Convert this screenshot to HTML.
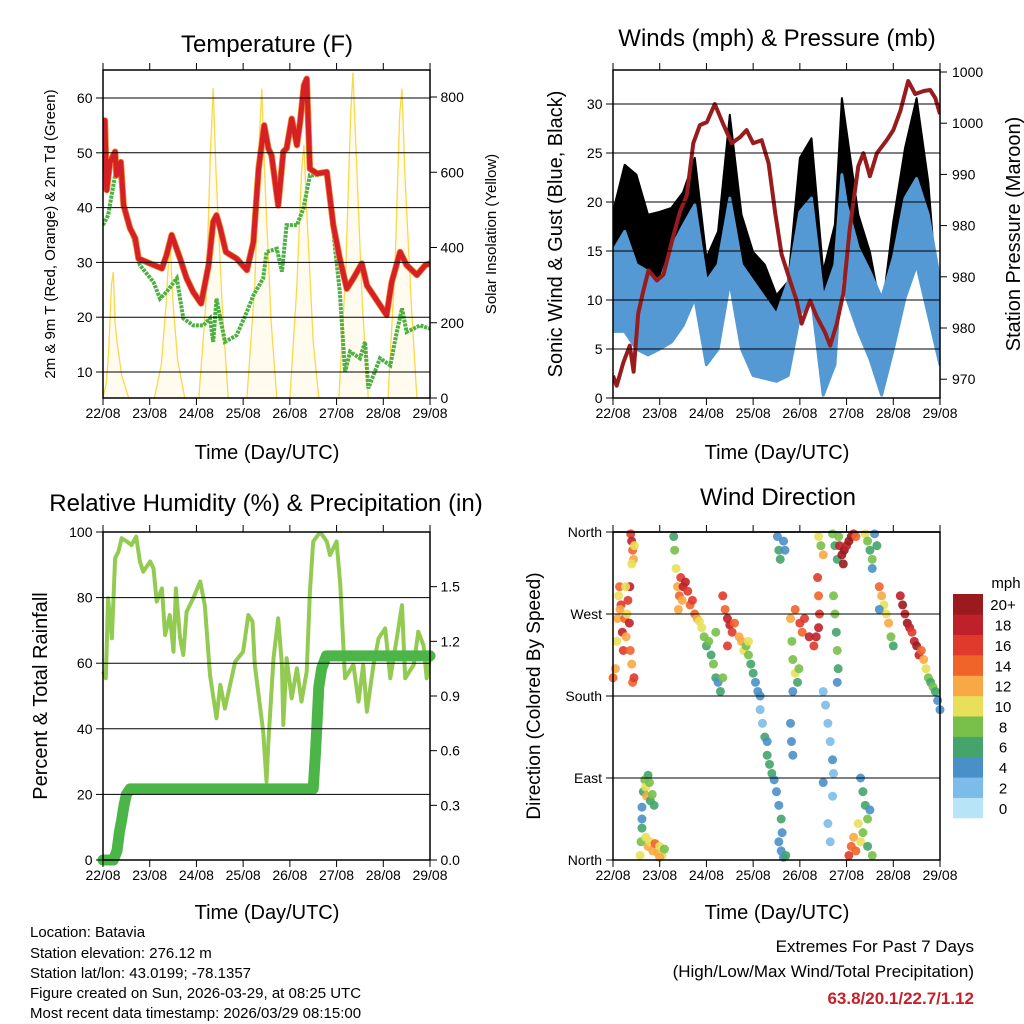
<!DOCTYPE html>
<html><head><meta charset="utf-8">
<style>
html,body{margin:0;padding:0;background:#fff;}
svg{display:block;font-family:"Liberation Sans",Arial,sans-serif;}
</style></head>
<body>
<svg id="fig" width="1024" height="1024" viewBox="0 0 1024 1024" xmlns="http://www.w3.org/2000/svg">
<rect width="1024" height="1024" fill="#fff"/>
<g id="layer"></g>
<text x="267" y="52" font-size="24" text-anchor="middle">Temperature (F)</text>
<text x="777" y="46" font-size="24" text-anchor="middle">Winds (mph) &amp; Pressure (mb)</text>
<text x="266" y="511" font-size="24" text-anchor="middle">Relative Humidity (%) &amp; Precipitation (in)</text>
<text x="778" y="505" font-size="24" text-anchor="middle">Wind Direction</text>
<text x="267" y="459" font-size="20" text-anchor="middle">Time (Day/UTC)</text>
<text x="777" y="459" font-size="20" text-anchor="middle">Time (Day/UTC)</text>
<text x="267" y="919" font-size="20" text-anchor="middle">Time (Day/UTC)</text>
<text x="777" y="919" font-size="20" text-anchor="middle">Time (Day/UTC)</text>
<text transform="translate(55,234) rotate(-90)" font-size="15" text-anchor="middle">2m &amp; 9m T (Red, Orange) &amp; 2m Td (Green)</text>
<text transform="translate(496,234) rotate(-90)" font-size="15" text-anchor="middle">Solar Insolation (Yellow)</text>
<text transform="translate(562,234) rotate(-90)" font-size="20" text-anchor="middle">Sonic Wind &amp; Gust (Blue, Black)</text>
<text transform="translate(1020,234) rotate(-90)" font-size="20" text-anchor="middle">Station Pressure (Maroon)</text>
<text transform="translate(47,696) rotate(-90)" font-size="20" text-anchor="middle">Percent &amp; Total Rainfall</text>
<text transform="translate(540,696) rotate(-90)" font-size="19" text-anchor="middle">Direction (Colored By Speed)</text>
<g font-size="15">
<text x="30" y="937">Location: Batavia</text>
<text x="30" y="958">Station elevation: 276.12 m</text>
<text x="30" y="978">Station lat/lon: 43.0199; -78.1357</text>
<text x="30" y="998">Figure created on Sun, 2026-03-29, at 08:25 UTC</text>
<text x="30" y="1018">Most recent data timestamp: 2026/03/29 08:15:00</text>
</g>
<g text-anchor="end">
<text x="974" y="952" font-size="17">Extremes For Past 7 Days</text>
<text x="974" y="977" font-size="17">(High/Low/Max Wind/Total Precipitation)</text>
<text x="974" y="1004" font-size="17" font-weight="bold" fill="#c8202a">63.8/20.1/22.7/1.12</text>
</g>
</svg>
<script>
// ---------- data ----------
const dayLabels = ["22/08","23/08","24/08","25/08","26/08","27/08","28/08","29/08"];
const tempT = [0,0.04,0.08,0.15,0.26,0.29,0.38,0.44,0.58,0.69,0.76,1.01,1.26,1.36,1.47,1.65,1.79,1.93,2.10,2.26,2.36,2.43,2.51,2.63,2.86,3.08,3.22,3.33,3.45,3.54,3.61,3.75,3.86,3.93,4.04,4.15,4.22,4.30,4.36,4.43,4.58,4.79,4.93,5.07,5.22,5.36,5.54,5.65,5.79,6.07,6.18,6.36,6.50,6.72,6.90,7.0];
const tempV = [52,55.9,43.2,48.3,50.2,45.9,48.3,40.4,36.2,34.4,30.7,29.8,28.9,31.3,35,30.7,27.1,24.6,22.5,29.5,37.4,38.6,36.2,31.9,30.7,28.6,33.7,47.1,55,50.8,49.5,40.4,50.2,50.8,56.2,51.4,55.6,62.3,63.5,47.1,46.2,46.5,36.8,30.7,25.2,27.1,29.8,25.8,24,20.4,26.4,31.9,29.5,27.7,29.5,29.8];
const dewT = [0,0.11,0.26,0.36,0.44,0.65,0.79,1.08,1.22,1.36,1.58,1.72,1.93,2.15,2.29,2.36,2.43,2.61,2.86,3.08,3.22,3.43,3.5,3.72,3.83,3.93,4.15,4.29,4.43,4.58,4.79,4.93,5.07,5.18,5.29,5.50,5.61,5.68,5.93,6.15,6.29,6.40,6.50,6.79,7.0];
const dewV = [36.8,38.6,45.9,46.2,39.8,34.3,29.5,26.4,23.4,24.6,27.1,19.8,18.5,18.5,19.8,15.5,23.4,15.5,16.7,21,24,27.1,31.9,32.5,28.3,36.8,36.8,39.8,45.9,45.9,46.5,35.6,24.6,10,13.7,12.5,15.5,7,12.5,11.2,17.3,21.6,17.3,18.5,17.9];
const solarT = [0,0.07,0.12,0.18,0.22,0.26,0.3,0.4,0.55,1.1,1.25,1.35,1.43,1.5,1.6,1.75,2.05,2.2,2.3,2.36,2.42,2.55,2.68,3.08,3.25,3.35,3.40,3.46,3.6,3.72,4.0,4.15,4.25,4.30,4.36,4.5,4.62,5.05,5.2,5.3,5.35,5.42,5.55,5.68,6.1,6.25,6.35,6.40,6.46,6.6,6.72,7.0];
const solarV = [0,40,120,300,335,200,150,60,0,0,90,250,425,250,100,0,0,250,650,824,600,250,0,0,300,700,822,600,200,0,0,300,600,673,500,150,0,0,350,750,865,650,250,0,0,350,750,822,600,250,0,0];
const tempTicks = [10,20,30,40,50,60];
const solarTicks = [0,200,400,600,800];

const windT = [0,0.25,0.5,0.75,1,1.25,1.5,1.75,2,2.25,2.5,2.75,3,3.25,3.5,3.75,4,4.25,4.5,4.75,4.9,5,5.25,5.5,5.75,6,6.25,6.5,6.75,7];
const windLo = [6.8,6.8,5,4.4,5,5.7,7.4,10.2,3.4,5,11.9,5,2.3,2,1.7,2.3,8.5,10.2,0.3,3.4,13.6,10.2,6.8,4,0.3,5,10.2,13.6,8.5,3.4];
const windHi = [15,17,13.6,12.9,11.9,15.3,17.6,19.7,11.9,13.6,20.4,13.6,11.9,10.2,8.5,11.9,19,20.4,10.2,13.6,22.8,19.7,15.3,12.9,10.2,14.3,20.4,22.4,18.7,11.9];
const gustHi = [19,23.8,22.8,18.7,19,19.4,21,24.5,14.3,17,28.9,18.7,14.9,13.6,10.5,11.9,24.5,26.5,12.9,17.7,30.6,27.2,18.7,14.9,8.5,18,25.5,30.6,22,6.8];
const presT = [0,0.08,0.22,0.36,0.44,0.54,0.65,0.76,0.94,1.08,1.26,1.43,1.58,1.72,1.86,2.01,2.18,2.36,2.54,2.72,2.86,3.00,3.18,3.33,3.47,3.61,3.79,3.93,4.04,4.22,4.36,4.54,4.65,4.79,4.93,5.07,5.25,5.36,5.50,5.65,5.86,6.00,6.15,6.32,6.47,6.65,6.79,6.90,7.0];
const presV = [970.7,969.7,972,973.7,971.1,976.9,979.2,981.2,980.2,980.8,984.1,987,988.7,993.9,995.7,996,997.8,995.8,993.9,994.5,995.2,993.9,994.2,991.9,987,982.8,980.2,978.2,975.9,978.2,976.6,975,973.7,975.9,978.9,985.4,991.6,992.9,990.6,992.9,994.2,995.2,997.1,1000.1,998.8,999.1,999.2,998.4,996.8];
const windTicks = [0,5,10,15,20,25,30];
const presTickLabels = ["1000","1000","990","980","980","980","970"];

const rhT = [0,.06,.11,.19,.26,.33,.40,.51,.61,.71,.79,.86,1.01,1.08,1.15,1.26,1.33,1.43,1.51,1.56,1.65,1.72,1.79,1.93,2.08,2.18,2.29,2.43,2.51,2.61,2.83,3.00,3.11,3.20,3.25,3.43,3.50,3.54,3.65,3.75,3.83,3.86,3.93,4.04,4.15,4.25,4.36,4.43,4.50,4.65,4.79,4.86,5.00,5.08,5.18,5.36,5.47,5.57,5.65,5.79,5.90,6.04,6.15,6.29,6.40,6.47,6.65,6.75,6.86,6.93,7.0];
const rhV = [57.4,55.4,79.8,67.6,92,94,98.1,97.1,96,98.6,91,87.9,91,88.9,78.8,82.8,68.6,74.7,63.5,82.8,67.6,62.5,75.7,79.8,84.9,77.7,56.4,43.2,53.4,46.2,60.5,63.5,74.7,72.7,59.5,39.1,23.9,36.1,61.5,73.7,59.5,41.2,61.5,49.3,58.4,48.3,57.4,81.8,97.1,100,97.1,93,97.1,83.8,55.4,59.5,48.3,59.5,45.2,59.5,67.6,70.6,55.4,67.6,77.7,55.4,59.5,69.6,65.5,55.4,61.5];
const precipT = [0,0.22,0.3,0.35,0.4,0.45,0.5,0.58,4.5,4.55,4.58,4.62,4.68,4.78,7.0];
const precipV = [0,0,0.05,0.15,0.22,0.3,0.36,0.39,0.39,0.6,0.75,0.95,1.05,1.12,1.12];
const rhTicks = [0,20,40,60,80,100];
const precipTicks = [0,0.3,0.6,0.9,1.2,1.5];

const dirT = [0.38,0.4,0.42,0.44,0.46,0.4, 0,0.05,0.08,0.1,0.12,0.14,0.17,0.2,0.22,0.25,0.28,0.3,0.32,0.35,0.37,0.4,0.42,0.45,0.36,0.27,0.15, 0.62,0.65,0.68,0.7,0.72,0.75,0.78,0.8,0.84,0.88,0.62, 0.58,0.6,0.62,0.7,0.75,0.8,0.85,0.9,0.95,1.0,1.05,1.1,1.0, 1.3,1.32,1.35,1.38,1.42,1.45,1.5,1.55,1.6,1.65,1.7,1.75,1.8,1.85,1.48,1.4, 1.9,1.95,2.0,2.05,2.1,2.15,2.2,2.25,2.3,2.35,2.2, 2.35,2.4,2.45,2.5,2.55,2.6,2.7,2.75,2.8,2.45, 2.85,2.9,2.95,3.0,3.05,3.1,3.15,2.9, 3.15,3.2,3.25,3.3,3.35,3.4,3.45,3.3, 3.5,3.55,3.6,3.62,3.55,3.6,3.65,3.7, 3.52,3.55,3.58,3.65,3.68, 3.8,3.83,3.85,3.9,3.95,3.98,3.9,3.85, 3.8,3.82,3.85, 4.0,4.05,4.1,4.2,4.3,4.35,4.4, 4.4,4.45,4.5,4.7,4.75,4.8,4.83, 4.38,4.4,4.42, 4.5,4.55,4.6,4.65,4.7,4.72,4.7,4.6,4.65,4.5, 4.72,4.75,4.78,4.8,4.82,4.8, 4.85,4.9,4.95,5.0,5.05,5.1,5.15,5.2,4.93, 5.4,5.45,5.5,5.55,5.6,5.65,5.55, 5.05,5.1,5.15,5.2,5.3,5.35,5.45,5.55,5.25, 5.3,5.35,5.4,5.45,5.5, 5.7,5.75,5.8,5.85,5.9,5.95,5.7,6.0, 6.15,6.2,6.25,6.3,6.35,6.4,6.45,6.5,6.55, 6.6,6.65,6.7,6.75,6.8,6.85,6.9,6.95,7.0];
const dirD = [358,350,340,330,345,325, 200,210,240,265,290,300,280,250,230,265,245,270,285,260,230,215,195,200,300,300,275, 58,75,88,80,70,93,85,65,72,60,45, 5,20,35,25,15,20,10,18,8,15,5,12,3, 355,340,320,300,290,310,300,305,295,280,285,270,265,262,285,275, 255,245,235,240,225,215,200,195,185,200,250, 290,275,265,258,250,260,245,240,230,235, 235,225,215,205,195,185,180,240, 165,150,135,115,105,95,88,130, 75,60,45,30,20,10,3,5, 355,340,330,350,340, 265,240,220,205,195,210,275,185, 150,130,115, 260,250,265,245,235,245,255, 355,345,335,358,345,330,355, 310,290,270, 185,170,150,130,110,95,70,40,20,85, 290,270,250,230,210,195, 345,335,340,345,350,355,358,355,325, 358,350,340,330,358,345,320, 5,15,25,10,20,30,15,5,40, 90,75,60,45,55, 300,290,280,270,260,245,275,235, 290,280,270,260,255,250,240,235,225, 230,220,210,200,195,190,185,175,165];
const dirS = [16,18,14,12,10,10, 14,12,10,12,10,14,16,18,16,14,12,10,16,18,14,12,14,16,18,10,12, 4,6,8,10,12,6,8,6,8,6,4, 10,8,6,10,12,10,12,14,12,10,10,8,12, 6,8,10,12,14,16,18,18,16,14,16,14,12,10,12,12, 10,8,6,8,6,8,6,4,6,8,8, 16,14,18,18,16,14,12,12,10,16, 8,8,6,6,4,4,4,10, 2,2,6,6,6,6,4,4, 4,4,6,4,4,4,4,6, 4,6,6,4,4, 12,8,8,10,6,8,14,4, 4,4,4, 16,14,16,18,16,18,18, 10,8,12,8,6,6,8, 16,14,16, 2,2,2,2,4,2,2,2,2,4, 8,8,6,8,6,4, 18,20,20,18,20,20,18,14,20, 10,8,6,8,4,6,4, 16,14,12,14,10,8,6,8,10, 4,6,6,8,4, 14,12,10,10,12,8,4,6, 18,20,18,20,18,16,18,20,18, 14,12,10,8,6,8,6,4,4];
const dirTickLabels = ["North","East","South","West","North"];
const speedBins = ["0","2","4","6","8","10","12","14","16","18","20+"];
const speedColors = ["#b8e4f8","#7cbce8","#4a90c8","#44a46c","#78c04a","#e8e05a","#f8a844","#f0642a","#e03a2c","#c0202a","#9b1a1d"];

// ---------- helpers ----------
const NS = "http://www.w3.org/2000/svg";
const layer = document.getElementById("layer");
function mk(tag, attrs, parent) {
  const e = document.createElementNS(NS, tag);
  for (const k in attrs) e.setAttribute(k, attrs[k]);
  (parent || layer).appendChild(e);
  return e;
}
function panel(x0, y0) {
  return { x0: x0, x1: x0 + 327, y0: y0, y1: y0 + 328,
    sx: t => x0 + t / 7 * 327 };
}
function lin(d0, d1, r0, r1) { return v => r0 + (v - d0) / (d1 - d0) * (r1 - r0); }
function pathOf(ts, vs, sx, sy) {
  return ts.map((t, i) => (i ? "L" : "M") + sx(t).toFixed(1) + "," + sy(vs[i]).toFixed(1)).join("");
}
function bandOf(ts, lo, hi, sx, sy) {
  let d = ts.map((t, i) => (i ? "L" : "M") + sx(t).toFixed(1) + "," + sy(hi[i]).toFixed(1)).join("");
  for (let i = ts.length - 1; i >= 0; i--) d += "L" + sx(ts[i]).toFixed(1) + "," + sy(lo[i]).toFixed(1);
  return d + "Z";
}
function frame(p, name) {
  const g = mk("g", {});
  
  
  mk("rect", { x: p.x0, y: p.y0, width: 327, height: 328, fill: "none", stroke: "#000", "stroke-width": 1.5 }, g);
  for (let i = 0; i < dayLabels.length; i++) {
    const x = p.sx(i);
    mk("line", { x1: x, x2: x, y1: p.y1, y2: p.y1 + 7, stroke: "#000" }, g);
    mk("line", { x1: x, x2: x, y1: p.y0, y2: p.y0 - 7, stroke: "#000" }, g);
    const tx = mk("text", { x: x, y: p.y1 + 20, "font-size": 14, "text-anchor": "middle" }, g);
    tx.textContent = dayLabels[i];
    
    
  }
  return g;
}
function grid(p, sy, ticks, g) {
  ticks.forEach(v => {
    const y = sy(v);
    if (y > p.y0 + 1 && y < p.y1 - 1) mk("line", { x1: p.x0, x2: p.x1, y1: y, y2: y, stroke: "#000", "stroke-width": 1 }, g);
  });
}
function yTicks(p, sy, ticks, side, fmt, g) {
  ticks.forEach(v => {
    const y = sy(v);
    const x = side === "left" ? p.x0 : p.x1;
    const dx = side === "left" ? -7 : 7;
    mk("line", { x1: x, x2: x + dx, y1: y, y2: y, stroke: "#000" }, g);
    const tx = mk("text", { x: x + dx * 1.5, y: y + 5, "font-size": 14, "text-anchor": side === "left" ? "end" : "start" }, g);
    tx.textContent = fmt(v);
    
    
  });
}

// ---------- Panel 1: temperature ----------
(function () {
  const p = panel(103, 70);
  const sy = lin(10, 60, 372, 98);
  const sr = lin(0, 800, 398, 97);
  const g = frame(p, "temperature");
  grid(p, sy, tempTicks, g);
  yTicks(p, sy, tempTicks, "left", v => v, g);
  yTicks(p, sr, solarTicks, "right", v => v, g);
  const clip = mk("clipPath", { id: "c1" });
  mk("rect", { x: p.x0, y: p.y0, width: 327, height: 328 }, clip);
  const solar = mk("path", { d: pathOf(solarT, solarV, p.sx, sr), fill: "#fde68a", "fill-opacity": 0.15, stroke: "#fbd84a", "stroke-width": 1.3, "clip-path": "url(#c1)" });
  
  
  const dew = mk("path", { d: pathOf(dewT, dewV, p.sx, sy), fill: "none", stroke: "#4cb045", "stroke-width": 4, "stroke-dasharray": "3 1", "clip-path": "url(#c1)" });
  
  
  const t9 = mk("path", { d: pathOf(tempT, tempV, p.sx, sy), fill: "none", stroke: "#f08a2a", "stroke-width": 6.5, "stroke-linejoin": "round", "clip-path": "url(#c1)" });
  
  
  const t2 = mk("path", { d: pathOf(tempT, tempV, p.sx, sy), fill: "none", stroke: "#d42026", "stroke-width": 5, "stroke-linejoin": "round", "clip-path": "url(#c1)" });
  
  
  layer.appendChild(g);
})();

// ---------- Panel 2: winds & pressure ----------
(function () {
  const p = panel(613, 70);
  const sy = lin(0, 30, 398, 104);
  const sp = lin(970, 1001, 382.7, 72);
  const g = frame(p, "winds");
  grid(p, sy, windTicks, g);
  yTicks(p, sy, windTicks, "left", v => v, g);
  presTickLabels.forEach((lab, i) => {
    const y = 72 + i * 51.2;
    mk("line", { x1: p.x1, x2: p.x1 + 7, y1: y, y2: y, stroke: "#000" }, g);
    const tx = mk("text", { x: p.x1 + 12, y: y + 5, "font-size": 14 }, g);
    tx.textContent = lab;
    
    
  });
  const clip = mk("clipPath", { id: "c2" });
  mk("rect", { x: p.x0, y: p.y0, width: 327, height: 328 }, clip);
  const gust = mk("path", { d: bandOf(windT, windLo, gustHi, p.sx, sy), fill: "#000", stroke: "#000", "stroke-width": 2, "stroke-linejoin": "round", "clip-path": "url(#c2)" });
  
  
  const wind = mk("path", { d: bandOf(windT, windLo, windHi, p.sx, sy), fill: "#5499d3", stroke: "#5499d3", "stroke-width": 3, "stroke-linejoin": "round", "clip-path": "url(#c2)" });
  
  
  const pres = mk("path", { d: pathOf(presT, presV, p.sx, sp), fill: "none", stroke: "#981b1e", "stroke-width": 4, "stroke-linejoin": "round", "clip-path": "url(#c2)" });
  
  
  layer.appendChild(g);
})();

// ---------- Panel 3: RH & precip ----------
(function () {
  const p = panel(103, 532);
  const sy = lin(0, 100, 860, 532);
  const sr = lin(0, 1.8, 860, 532);
  const g = frame(p, "humidity");
  grid(p, sy, rhTicks, g);
  yTicks(p, sy, rhTicks, "left", v => v, g);
  yTicks(p, sr, precipTicks, "right", v => v.toFixed(1), g);
  const clip = mk("clipPath", { id: "c3" });
  mk("rect", { x: p.x0 - 6, y: p.y0, width: 339, height: 334 }, clip);
  const rh = mk("path", { d: pathOf(rhT, rhV, p.sx, sy), fill: "none", stroke: "#93cb52", "stroke-width": 4, "stroke-linejoin": "round", "clip-path": "url(#c3)" });
  
  
  const pr = mk("path", { d: pathOf(precipT, precipV, p.sx, sr), fill: "none", stroke: "#4bb548", "stroke-width": 11, "stroke-linejoin": "round", "stroke-linecap": "round", "clip-path": "url(#c3)" });
  
  
  layer.appendChild(g);
})();

// ---------- Panel 4: wind direction ----------
(function () {
  const p = panel(613, 532);
  const sy = lin(0, 360, 860, 532);
  const g = frame(p, "wind-direction");
  const dirTicks = [0, 90, 180, 270, 360];
  grid(p, sy, dirTicks, g);
  mk("line", { x1: p.x0, x2: p.x1, y1: 532, y2: 532, stroke: "#000", "stroke-width": 1.5 }, g);
  dirTicks.forEach((v, i) => {
    const y = sy(v);
    mk("line", { x1: p.x0, x2: p.x0 - 7, y1: y, y2: y, stroke: "#000" }, g);
    const tx = mk("text", { x: p.x0 - 11, y: y + 5, "font-size": 14, "text-anchor": "end" }, g);
    tx.textContent = dirTickLabels[i];
    
    
  });
  const pts = mk("g", { "fill-opacity": 0.9 });
  
  
  for (let i = 0; i < dirT.length; i++) {
    const bin = Math.min(10, Math.floor(dirS[i] / 2));
    const c = mk("circle", { cx: p.sx(dirT[i]), cy: sy(dirD[i]), r: 4.5, fill: speedColors[bin] }, pts);
    
    
  }
  layer.appendChild(g);
  // colorbar
  const cb = mk("g", {});
  
  
  const h = 224 / speedBins.length;
  for (let i = 0; i < speedBins.length; i++) {
    const y = 818 - (i + 1) * h;
    mk("rect", { x: 953, y: y, width: 30, height: h + 0.3, fill: speedColors[i] }, cb);
    const tx = mk("text", { x: 1003, y: y + h / 2 + 6, "font-size": 15, "text-anchor": "middle" }, cb);
    tx.textContent = speedBins[i];
    
    
  }
  const u = mk("text", { x: 1006, y: 588, "font-size": 15, "text-anchor": "middle" }, cb);
  u.textContent = "mph";
  
  
})();
</script>
</body></html>
